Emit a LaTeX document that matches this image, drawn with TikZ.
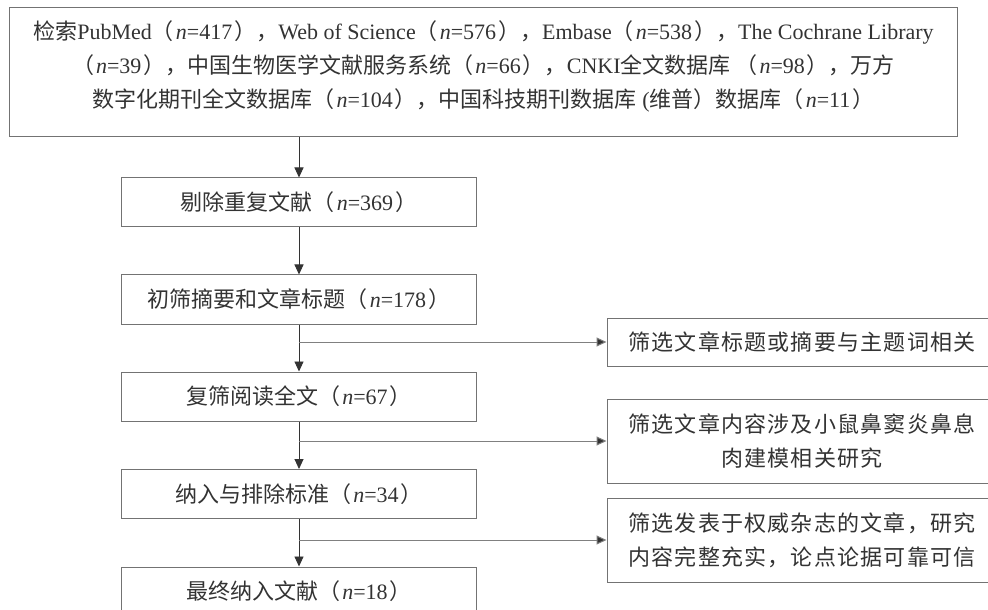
\documentclass[tikz,border=0pt]{standalone}
\usepackage{fontspec}
\setmainfont{Liberation Serif}
\newfontfamily\cjk{Noto Sans CJK SC}
\newfontfamily\cjkwide[LetterSpace=5.5]{Noto Sans CJK SC}
\newcommand{\zh}[1]{{\cjk #1}}
\newcommand{\zhw}[1]{{\cjkwide #1}}
\newcommand{\nn}{\hspace{2bp}\textit{n}}
\newcommand{\ee}{\hspace{2bp}}
\usetikzlibrary{arrows.meta}
\definecolor{bordercol}{gray}{0.45}
\definecolor{txtcol}{gray}{0.2}
\definecolor{linecol}{gray}{0.2}
\definecolor{branchcol}{gray}{0.5}
\tikzset{
  box/.style={draw=bordercol, line width=1bp, inner sep=0pt, text=txtcol},
  leftbox/.style={box, minimum width=354bp, minimum height=49bp},
  rightbox/.style={box, minimum width=390bp, align=center},
  txt/.style={text=txtcol, inner sep=0pt, align=center},
  arr/.style={draw=linecol, line width=0.9bp, -{Triangle[length=10bp,width=9bp]}},
  brarr/.style={draw=branchcol, line width=1bp, -{Triangle[length=10bp,width=9bp,fill=linecol]}},
}
\begin{document}
\begin{tikzpicture}[x=1bp, y=-1bp, font={\fontsize{22bp}{34bp}\selectfont}]
\clip (0,0) rectangle (988,610);
\fill[white] (0,0) rectangle (988,610);
% top box
\node[box, minimum width=947bp, minimum height=129bp] (top) at (483.5,72.5) {};
\node[txt] (toptext) at (483.5,66) {\zh{检索}PubMed\zh{（}\nn=417\ee\zh{），}Web of Science\zh{（}\nn=576\ee\zh{），}Embase\zh{（}\nn=538\ee\zh{），}The Cochrane Library\\
\zh{（}\nn=39\ee\zh{），中国生物医学文献服务系统（}\nn=66\ee\zh{），}CNKI\zh{全文数据库 （}\nn=98\ee\zh{），万方}\\
\zh{数字化期刊全文数据库（}\nn=104\ee\zh{），中国科技期刊数据库} (\zh{维普）数据库（}\nn=11\ee\zh{）}};
% left boxes
\node[leftbox] (b2) at (299,202.5) {\zh{剔除重复文献（}\nn=369\ee\zh{）}};
\node[leftbox] (b3) at (299,299.5) {\zh{初筛摘要和文章标题（}\nn=178\ee\zh{）}};
\node[leftbox] (b4) at (299,396.5) {\zh{复筛阅读全文（}\nn=67\ee\zh{）}};
\node[leftbox] (b5) at (299,494) {\zh{纳入与排除标准（}\nn=34\ee\zh{）}};
\node[leftbox] (b6) at (299,591.5) {\zh{最终纳入文献（}\nn=18\ee\zh{）}};
% right boxes
\node[rightbox, minimum height=48bp] (ra) at (802,342) {\zhw{筛选文章标题或摘要与主题词相关}};
\node[rightbox, minimum height=84bp] (rb) at (802,441) {\zhw{筛选文章内容涉及小鼠鼻窦炎鼻息}\\\zhw{肉建模相关研究}};
\node[rightbox, minimum height=84bp] (rc) at (802,540) {\zhw{筛选发表于权威杂志的文章，研究}\\\zhw{内容完整充实，论点论据可靠可信}};
% connectors
\draw[arr] (b2.north |- top.south) -- (b2.north);
\draw[arr] (b2) -- (b3);
\draw[arr] (b3) -- (b4);
\draw[arr] (b4) -- (b5);
\draw[arr] (b5) -- (b6);
\draw[brarr] (b3.south |- ra.west) -- (ra.west);
\draw[brarr] (b4.south |- rb.west) -- (rb.west);
\draw[brarr] (b5.south |- rc.west) -- (rc.west);
\end{tikzpicture}
\end{document}
